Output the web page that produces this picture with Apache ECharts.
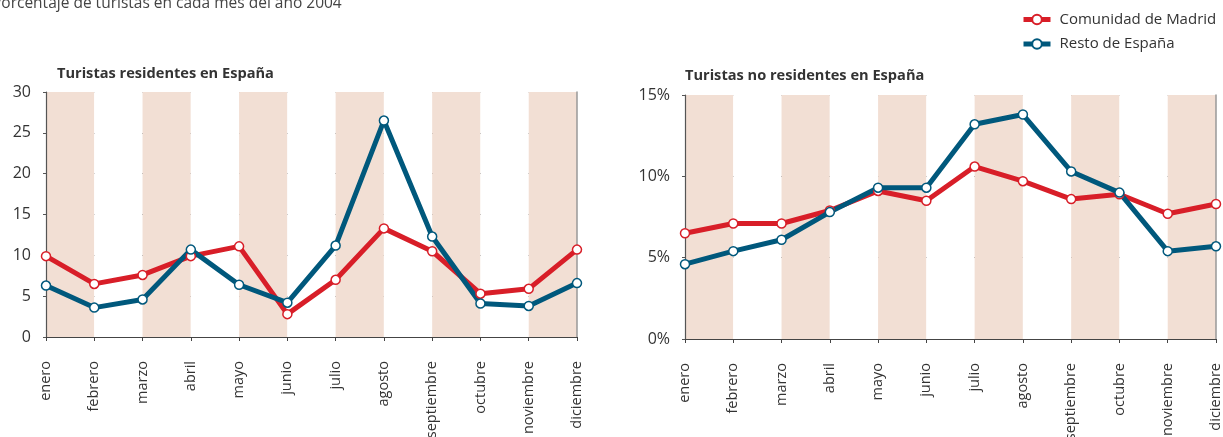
<!DOCTYPE html>
<html>
<head>
<meta charset="utf-8">
<script src="https://cdn.jsdelivr.net/npm/echarts@6/dist/echarts.min.js"></script>
<style>
html,body{margin:0;padding:0;background:#fff;}
#c{width:1223px;height:437px;}
</style>
</head>
<body>
<div id="c"></div>
<script>
const months = ['enero','febrero','marzo','abril','mayo','junio','julio','agosto','septiembre','octubre','noviembre','diciembre'];
const seriesNames = ['Comunidad de Madrid','Resto de España'];
const residMadrid = [9.9, 6.5, 7.6, 9.9, 11.1, 2.8, 7.0, 13.3, 10.5, 5.3, 5.9, 10.7];
const residResto  = [6.3, 3.6, 4.6, 10.7, 6.4, 4.2, 11.2, 26.5, 12.3, 4.1, 3.8, 6.6];
const noResidMadrid = [6.5, 7.1, 7.1, 7.9, 9.1, 8.5, 10.6, 9.7, 8.6, 8.9, 7.7, 8.3];
const noResidResto  = [4.6, 5.4, 6.1, 7.8, 9.3, 9.3, 13.2, 13.8, 10.3, 9.0, 5.4, 5.7];
const leftTicks = [0, 30, 5];
const rightTicks = [0, 15, 5];
const titles = ['Turistas residentes en España','Turistas no residentes en España'];
const subtitle = 'Porcentaje de turistas en cada mes del año 2004';

const RED = '#d81e28', BLUE = '#00587c', SHADE = '#f2dfd4';
const FONT = '"Open Sans", "Noto Sans", sans-serif';
const chart = echarts.init(document.getElementById('c'));

function xAx(gi){
  return {
    type:'category', gridIndex:gi, data:months, boundaryGap:false,
    axisLine:{lineStyle:{color:'#444', width:1.2}},
    axisTick:{show:true, length:4, lineStyle:{color:'#444'}},
    axisLabel:{rotate:90, fontSize:14.5, color:'#333', fontFamily:FONT, margin:24, interval:0, hideOverlap:false},
    splitLine:{show:false},
    splitArea:{show:true, interval:0, areaStyle:{color:[SHADE,'#ffffff']}}
  };
}
function yAx(gi, t, fmt, nLines){
  const cols = [];
  for(let i=0;i<nLines-1;i++) cols.push('#333');
  cols.push('#999');
  return {
    type:'value', gridIndex:gi, min:t[0], max:t[1], interval:t[2],
    axisLine:{show:true, lineStyle:{color:'#555', width:1.2}},
    axisTick:{show:true, length:3, lineStyle:{color:'#555'}},
    axisLabel:{fontSize:16, color:'#333', fontFamily:FONT, margin:15, formatter:fmt},
    splitLine:{show:true, lineStyle:{color:cols, width:1}}
  };
}
function yRight(gi, t){
  return {
    type:'value', gridIndex:gi, min:t[0], max:t[1], interval:t[2], position:'right',
    axisLine:{show:true, lineStyle:{color:'#999', width:1.5}},
    axisTick:{show:false}, axisLabel:{show:false}, splitLine:{show:false}
  };
}
function ser(name, data, color, xi, yi){
  return {
    type:'line', name:name, data:data, xAxisIndex:xi, yAxisIndex:yi,
    symbol:'circle', symbolSize:9, showSymbol:true,
    lineStyle:{color:color, width:5},
    itemStyle:{color:'#fff', borderColor:color, borderWidth:1.5},
    z:3
  };
}

chart.setOption({
  animation:false,
  textStyle:{fontFamily:FONT},
  title:[
    {text:titles[0], left:52, top:61, textStyle:{fontSize:14.6, fontWeight:'bold', color:'#333', fontFamily:FONT}},
    {text:titles[1], left:680, top:63, textStyle:{fontSize:14.6, fontWeight:'bold', color:'#333', fontFamily:FONT}}
  ],
  graphic:[
    {type:'text', left:-8, top:-4, style:{text:subtitle, fontSize:15.5, fill:'#444', fontFamily:FONT}}
  ],
  legend:{
    orient:'vertical', left:1016, top:7, itemWidth:27, itemHeight:12, itemGap:9.5,
    data:seriesNames,
    lineStyle:{width:5},
    textStyle:{fontSize:15, color:'#333', fontFamily:FONT, padding:[0,0,0,4]}
  },
  grid:[
    {left:46, right:646, top:92, bottom:100, outerBoundsMode:'none', containLabel:false},
    {left:685, right:7, top:95, bottom:98, outerBoundsMode:'none', containLabel:false}
  ],
  xAxis:[xAx(0), xAx(1)],
  yAxis:[
    yAx(0, leftTicks, '{value}', 7),
    yRight(0, leftTicks),
    yAx(1, rightTicks, '{value}%', 4),
    yRight(1, rightTicks)
  ],
  series:[
    ser(seriesNames[0], residMadrid, RED, 0, 0),
    ser(seriesNames[1], residResto, BLUE, 0, 0),
    ser(seriesNames[0], noResidMadrid, RED, 1, 2),
    ser(seriesNames[1], noResidResto, BLUE, 1, 2)
  ]
});
</script>
</body>
</html>
